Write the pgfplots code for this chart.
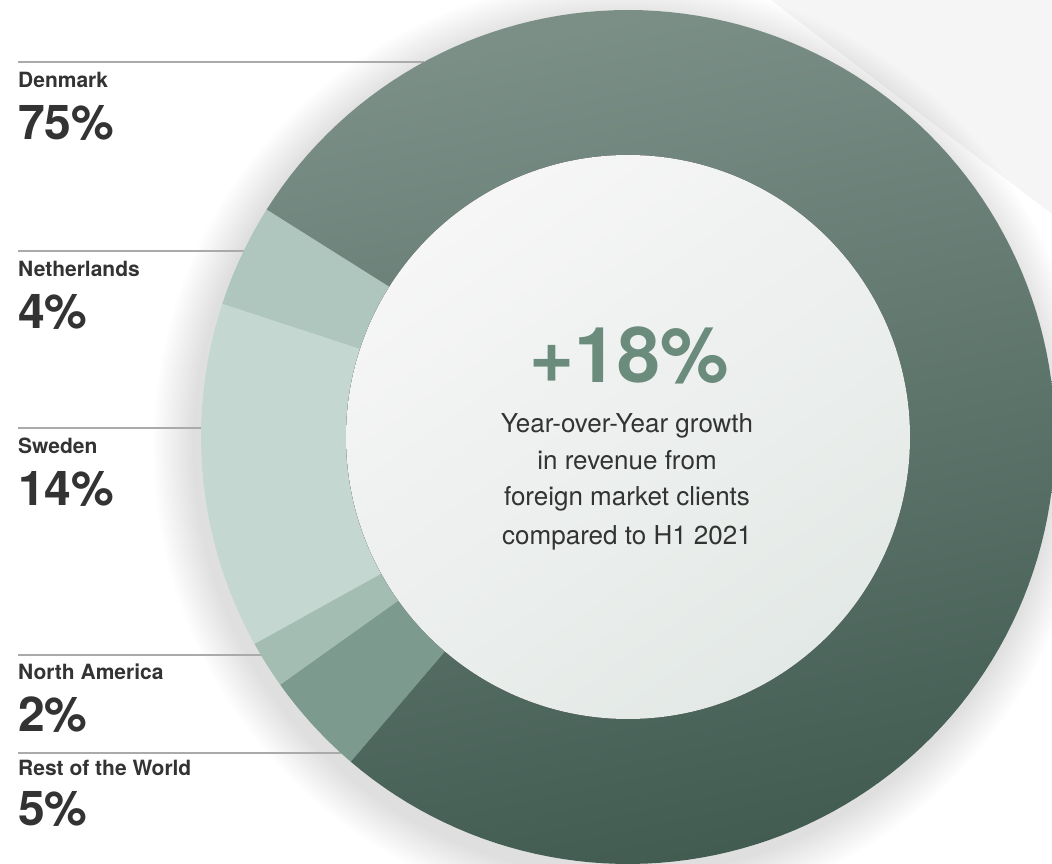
\documentclass[border=0pt]{standalone}
\usepackage{fontspec}
\setmainfont{TeX Gyre Heros}
\usepackage{pgfplots}
\pgfplotsset{compat=1.18}

\definecolor{cNL}{HTML}{AEC6BD}
\definecolor{cSE}{HTML}{C4D7D1}
\definecolor{cNA}{HTML}{A3BDB3}
\definecolor{cRW}{HTML}{7C9B8E}
\definecolor{dkTop}{HTML}{7B8F87}
\definecolor{dkBot}{HTML}{425C52}
\definecolor{inTop}{HTML}{F6F6F6}
\definecolor{inBot}{HTML}{E3E9E6}
\definecolor{bigGreen}{HTML}{6B8B7D}
\definecolor{txt}{HTML}{333333}
\definecolor{rule}{HTML}{AAAAAA}
\definecolor{bgGray}{HTML}{F5F5F5}

% shares of the ring, in percent
\def\sNL{3.9}
\def\sSE{13.1}
\def\sNA{1.8}
\def\sRW{3.9}
\def\sDK{77.3}
\def\aStart{147.8}
\pgfmathsetmacro\aA{\aStart}
\pgfmathsetmacro\aB{\aA+3.6*\sNL}
\pgfmathsetmacro\aC{\aB+3.6*\sSE}
\pgfmathsetmacro\aD{\aC+3.6*\sNA}
\pgfmathsetmacro\aE{\aD+3.6*\sRW}
\pgfmathsetmacro\aF{\aE+3.6*\sDK}

\def\cx{628}
\def\cy{427}
\def\Ro{427}
\def\Ri{282}

\newcommand\slice[4]{% #1 options, #2 start, #3 end, #4 samples
  \addplot[draw=none,#1,domain=#2:#3,samples=#4,variable=\t]
    ({\cx+\Ro*cos(\t)},{\cy+\Ro*sin(\t)})
    -- ({\cx+\Ri*cos(#3)},{\cy+\Ri*sin(#3)})
    arc[start angle=#3,end angle=#2,radius=\Ri pt] -- cycle;
}

\begin{document}
\begin{tikzpicture}
\begin{axis}[name=ax, at={(0,0)}, anchor=south west,
  x=1pt, y=1pt, xmin=0, xmax=1052, ymin=0, ymax=864,
  hide axis, clip=true]

% background
\fill[bgGray] (771,864) -- (1052,864) -- (1052,650) -- cycle;
\pgfplotsinvokeforeach{1,...,16}{
  \fill[black,opacity=0.006] (\cx-6,\cy-10) circle[radius={(\Ro+2.6*#1)*1pt}];
}

% leader rules
\draw[rule,line width=1.3pt] (18,802) -- (424,802);
\draw[rule,line width=1.3pt] (18,613) -- (250,613);
\draw[rule,line width=1.3pt] (18,436) -- (215,436);
\draw[rule,line width=1.3pt] (18,209) -- (268,209);
\draw[rule,line width=1.3pt] (18,111) -- (345,111);

% ring
\slice{fill=cNL}{\aA}{\aB}{20}
\slice{fill=cSE}{\aB}{\aC}{30}
\slice{fill=cNA}{\aC}{\aD}{10}
\slice{fill=cRW}{\aD}{\aE}{20}
\slice{top color=dkTop,bottom color=dkBot,shading angle=12}{\aE}{\aF}{150}

% inner disc
\fill[top color=inTop,bottom color=inBot,shading angle=35] (\cx,\cy) circle[radius=\Ri pt];

% labels
\begin{scope}[every node/.style={anchor=base west,inner sep=0pt,text=txt}]
\node at (18,776) {\fontsize{21}{24}\selectfont\bfseries Denmark};
\node at (18,724) {\fontsize{48}{56}\selectfont\bfseries 75\%};
\node at (18,587) {\fontsize{21}{24}\selectfont\bfseries Netherlands};
\node at (18,535) {\fontsize{48}{56}\selectfont\bfseries 4\%};
\node at (18,410) {\fontsize{21}{24}\selectfont\bfseries Sweden};
\node at (18,358) {\fontsize{48}{56}\selectfont\bfseries 14\%};
\node at (18,184) {\fontsize{21}{24}\selectfont\bfseries North America};
\node at (18,132) {\fontsize{48}{56}\selectfont\bfseries 2\%};
\node at (18,88) {\fontsize{21}{24}\selectfont\bfseries Rest of the World};
\node at (18,38) {\fontsize{48}{56}\selectfont\bfseries 5\%};
\end{scope}

% centre text
\node[anchor=base,inner sep=0pt,text=bigGreen] at (629,481)
  {\fontsize{77}{80}\selectfont\bfseries +18\%};
\begin{scope}[every node/.style={anchor=base,inner sep=0pt,text=txt}]
\node at (627,431) {\fontsize{26}{30}\selectfont Year-over-Year growth};
\node at (627,394) {\fontsize{26}{30}\selectfont in revenue from};
\node at (627,358) {\fontsize{26}{30}\selectfont foreign market clients};
\node at (627,319) {\fontsize{26}{30}\selectfont compared to H1 2021};
\end{scope}
\end{axis}
\pgfresetboundingbox
\path (ax.south west) rectangle (ax.north east);
\end{tikzpicture}
\end{document}
